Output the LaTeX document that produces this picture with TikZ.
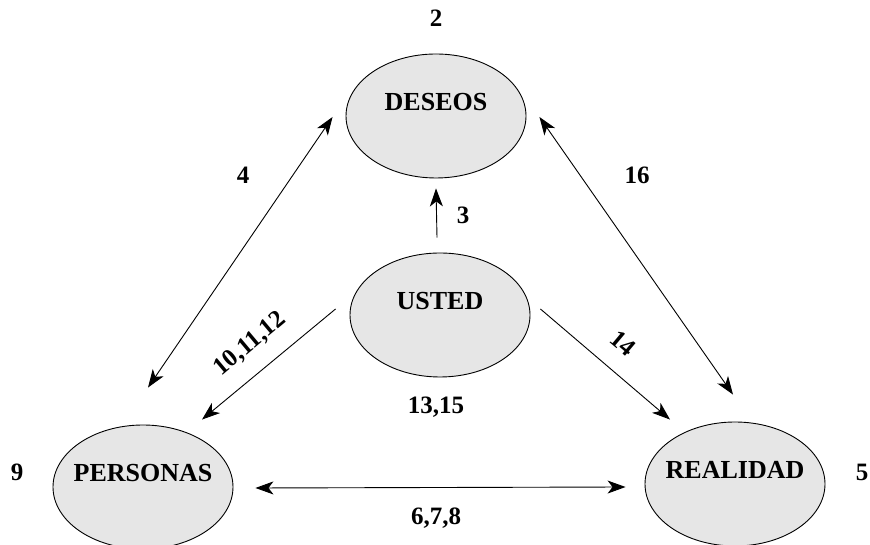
\documentclass[tikz,border=0pt]{standalone}
\usepackage{fontspec}
\setmainfont{Liberation Serif}
\usepackage{tikz}
\usetikzlibrary{arrows.meta,positioning,calc,shapes.geometric}
\definecolor{dsfill}{HTML}{E6E6E6}
\definecolor{dsink} {HTML}{000000}
\tikzset{
  dsoval/.style={ellipse, draw=dsink, fill=dsfill, line width=0.9pt, inner sep=0pt,
                 minimum width=180pt, minimum height=124pt},
  dsname/.style={font=\fontsize{26}{30}\selectfont\bfseries, inner sep=0pt, yshift=14pt},
  dsnum/.style={font=\fontsize{25}{28}\selectfont\bfseries, inner sep=0pt},
  dsedge/.style={-{Stealth[length=18pt,width=13pt,inset=5pt]}, draw=dsink, line width=0.9pt},
  dsdbl/.style={{Stealth[length=18pt,width=13pt,inset=5pt]}-{Stealth[length=18pt,width=13pt,inset=5pt]},
                draw=dsink, line width=0.9pt},
}
\begin{document}
\begin{tikzpicture}[x=1pt,y=1pt]
  \useasboundingbox (0,0) rectangle (870,545);
  \node[dsoval,label={[dsname]center:DESEOS}]   (des)  at (436,429) {};
  \node[dsoval,label={[dsname]center:USTED}]    (ud)   at (440,230) {};
  \node[dsoval,label={[dsname]center:PERSONAS}] (pers) at (143,58)  {};
  \node[dsoval,label={[dsname]center:REALIDAD}] (real) at (735,61)  {};

  \draw[dsdbl] ([shift={(5pt,37pt)}]pers.north) -- ([shift={(-13pt,-1pt)}]des.west);
  \draw[dsdbl] ([shift={(-2pt,27pt)}]real.north) -- ([xshift=13pt,yshift=-1pt]des.east);
  \draw[dsedge] ([shift={(-3pt,15pt)}]ud.north) -- ([yshift=-10pt]des.south);
  \draw[dsedge] ([shift={(-14pt,6pt)}]ud.west) -- ([shift={(59pt,5pt)}]pers.north);
  \draw[dsedge] ([shift={(10pt,6pt)}]ud.east) -- ([shift={(-65pt,2pt)}]real.north);
  \draw[dsdbl] ([xshift=22pt,yshift=-1pt]pers.east) -- ([shift={(-19pt,-3pt)}]real.west);

  \node[dsnum] (n2)  at (436,527) {2};
  \node[dsnum] (n4)  at (243,370) {4};
  \node[dsnum] (n16) at (637,370) {16};
  \node[dsnum] (n3)  at (463,330) {3};
  \node[dsnum,rotate=40]  (n10) at (250,201) {10,11,12};
  \node[dsnum,rotate=-40] (n14) at (623,202) {14};
  \node[dsnum] (n13) at (436,138) {13,15};
  \node[dsnum] (n9)  at (17,73)   {9};
  \node[dsnum] (n5)  at (862,73)  {5};
  \node[dsnum] (n6)  at (436,27)  {6,7,8};
\end{tikzpicture}
\end{document}
